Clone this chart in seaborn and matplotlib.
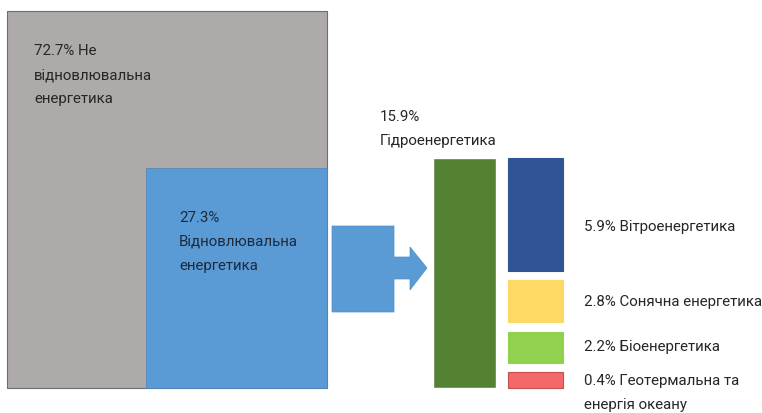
import matplotlib
matplotlib.use("Agg")
import matplotlib.pyplot as plt
from matplotlib.patches import Rectangle, Polygon
import seaborn as sns

# ---- data ----
shares = [72.7, 27.3]
share_labels = ["72.7% Не\nвідновлювальна\nенергетика", "27.3%\nВідновлювальна\nенергетика"]
renew_names = ["Гідроенергетика", "Вітроенергетика", "Сонячна енергетика",
               "Біоенергетика", "Геотермальна та\nенергія океану"]
renew_values = [15.9, 5.9, 2.8, 2.2, 0.4]

# ---- style ----
sns.set_theme(style="white")
plt.rcParams['font.family'] = ['Roboto', 'DejaVu Sans']
FS = 10.8
LS = 1.95
TXT = "#262626"

fig = plt.figure(figsize=(7.62, 4.13), dpi=100)
ax = fig.add_axes([0, 0, 1, 1])
ax.set_xlim(0, 762)
ax.set_ylim(413, 0)
ax.axis("off")

# layout (pixel space)
base = 388
# big squares
ax.add_patch(Rectangle((7, 11), 320, base - 11, facecolor="#AEAAAA", edgecolor="#6f6f6f", lw=0.8))
ax.add_patch(Rectangle((146, 168), 181, base - 168, facecolor="#5B9BD5", edgecolor="#4a86bd", lw=0.5))
ax.text(34, 75, share_labels[0], color=TXT, fontsize=FS, va="center", ha="left", linespacing=LS)
ax.text(179, 242, share_labels[1], color="#1c2b3c", fontsize=FS, va="center", ha="left", linespacing=LS)

# arrow
arrow = [(332, 226), (394, 226), (394, 257), (410, 257), (410, 247), (427, 268),
         (410, 290), (410, 279), (394, 279), (394, 312), (332, 312)]
ax.add_patch(Polygon(arrow, closed=True, facecolor="#5B9BD5", edgecolor="#4f8fc9", lw=0.5))

# hydro bar
scale = 230 / renew_values[0]
ax.bar(433, renew_values[0] * scale, width=63, bottom=base - renew_values[0] * scale,
       align="edge", color="#548235")
ax.text(380, 129, f"{renew_values[0]}%\n{renew_names[0]}", color=TXT, fontsize=FS,
        va="center", ha="left", linespacing=LS)

# small bars
seg_tops = [158, 280, 332, 372]
seg_bottoms = [271, 322, 363, 388]
seg_colors = ["#2F5597", "#FFD966", "#92D050", "#F4686A"]
seg_edges = ["#2F5597", "#FFD966", "#92D050", "#c0504d"]
label_y = [227, 302, 347, 393]
for v, n, t, b, c, e, ly in zip(renew_values[1:], renew_names[1:], seg_tops, seg_bottoms,
                                seg_colors, seg_edges, label_y):
    ax.bar(508, b - t, width=55, bottom=t, align="edge", color=c, edgecolor=e, linewidth=0.8)
    ax.text(584, ly, f"{v}% {n}", color=TXT, fontsize=FS, va="center", ha="left", linespacing=LS)

fig.savefig("out.png", dpi=100)
